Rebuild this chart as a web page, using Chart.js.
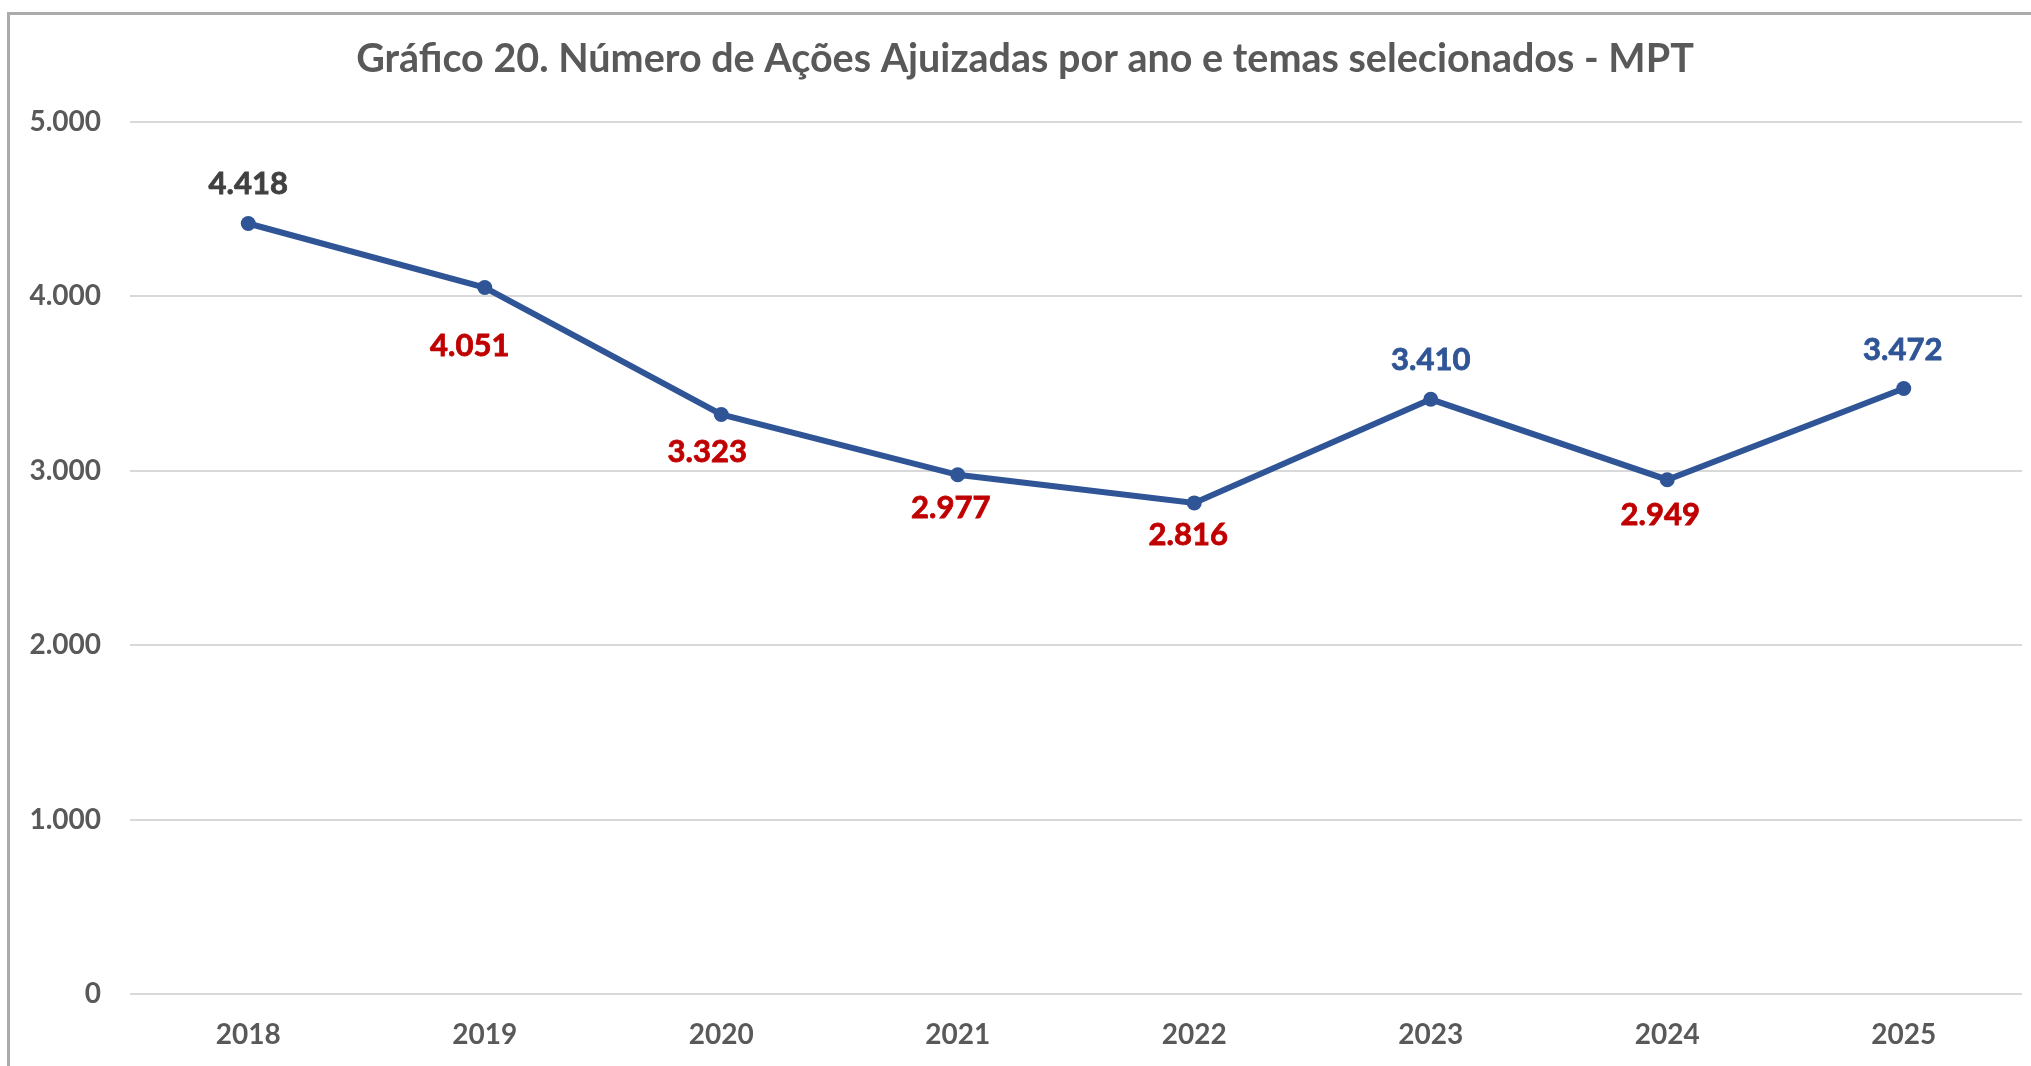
<!DOCTYPE html>
<html>
<head>
<meta charset="utf-8">
<script src="https://cdn.jsdelivr.net/npm/chart.js@4/dist/chart.umd.min.js"></script>
<style>
  html, body { margin: 0; padding: 0; background: #ffffff; overflow: hidden; }
  #wrap { position: absolute; left: 0; top: 0; width: 2031px; height: 1066px; }
  #frame { position: absolute; left: 7px; top: 12px; width: 2100px; height: 1200px; border: 3px solid #ababab; box-sizing: border-box; pointer-events: none; }
  canvas { position: absolute; left: 0; top: 0; }
</style>
</head>
<body>
<div id="wrap">
  <canvas id="c" width="2031" height="1066"></canvas>
  <div id="frame"></div>
</div>
<script>
// ---- data ----
const titleText = "Gráfico 20. Número de Ações Ajuizadas por ano e temas selecionados - MPT";
const years = ["2018", "2019", "2020", "2021", "2022", "2023", "2024", "2025"];
const acoes = [4418, 4051, 3323, 2977, 2816, 3410, 2949, 3472];
const yTicks = [0, 1000, 2000, 3000, 4000, 5000];

// ---- style ----
const FONT = "Lato, 'Open Sans', 'DejaVu Sans', sans-serif";
const lineColor = "#2F5597";
const upColor = "#2F5597";
const downColor = "#C00000";
const firstColor = "#404040";
const axisTextColor = "#595959";
// label offsets relative to the point (dx, dy), in pixels
const labelOffsets = [[0, -40], [-15, 58], [-14, 38], [-7, 33], [-6, 32], [0, -39], [-7, 35], [-1, -38]];

function fmt(v) {
  return String(Math.round(v)).replace(/\B(?=(\d{3})+(?!\d))/g, ".");
}

const labelPlugin = {
  id: "pointLabels",
  afterDatasetsDraw(chart) {
    const ctx = chart.ctx;
    const meta = chart.getDatasetMeta(0);
    const data = chart.data.datasets[0].data;
    ctx.save();
    ctx.font = "bold 31px " + FONT;
    ctx.textAlign = "center";
    ctx.textBaseline = "middle";
    meta.data.forEach((pt, i) => {
      let color = firstColor;
      if (i > 0) color = data[i] >= data[i - 1] ? upColor : downColor;
      const off = labelOffsets[i] || [0, -38];
      ctx.fillStyle = color;
      ctx.lineWidth = 0.8;
      ctx.strokeStyle = color;
      ctx.strokeText(fmt(data[i]), pt.x + off[0], pt.y + off[1]);
      ctx.fillText(fmt(data[i]), pt.x + off[0], pt.y + off[1]);
    });
    ctx.restore();
  }
};

new Chart(document.getElementById("c"), {
  type: "line",
  data: {
    labels: years,
    datasets: [{
      data: acoes,
      borderColor: lineColor,
      backgroundColor: lineColor,
      borderWidth: 6,
      pointRadius: 7.5,
      pointBackgroundColor: lineColor,
      pointBorderWidth: 0,
      tension: 0,
      fill: false
    }]
  },
  options: {
    responsive: false,
    animation: false,
    layout: { padding: { left: 28, right: 9, top: 0, bottom: 0 } },
    plugins: {
      legend: { display: false },
      tooltip: { enabled: false },
      title: {
        display: true,
        text: titleText,
        color: axisTextColor,
        font: { family: FONT, size: 39.5, weight: "bold", lineHeight: 1.2 },
        padding: { top: 36, bottom: 38.6 }
      }
    },
    scales: {
      x: {
        type: "category",
        offset: true,
        grid: { display: false, drawTicks: false },
        border: { display: false },
        ticks: { color: axisTextColor, font: { family: FONT, size: 28, weight: "bold" }, padding: 24, maxRotation: 0 },
        afterFit(scale) { scale.height = 72; }
      },
      y: {
        min: 0,
        max: 5000,
        afterBuildTicks(scale) { scale.ticks = yTicks.map(v => ({ value: v })); },
        grid: { color: "#d9d9d9", lineWidth: 2, drawTicks: false },
        border: { display: false },
        ticks: {
          color: axisTextColor,
          font: { family: FONT, size: 28, weight: "bold" },
          padding: 29,
          callback: v => fmt(v)
        },
        afterFit(scale) { scale.width = 102; }
      }
    }
  },
  plugins: [labelPlugin]
});
</script>
</body>
</html>
